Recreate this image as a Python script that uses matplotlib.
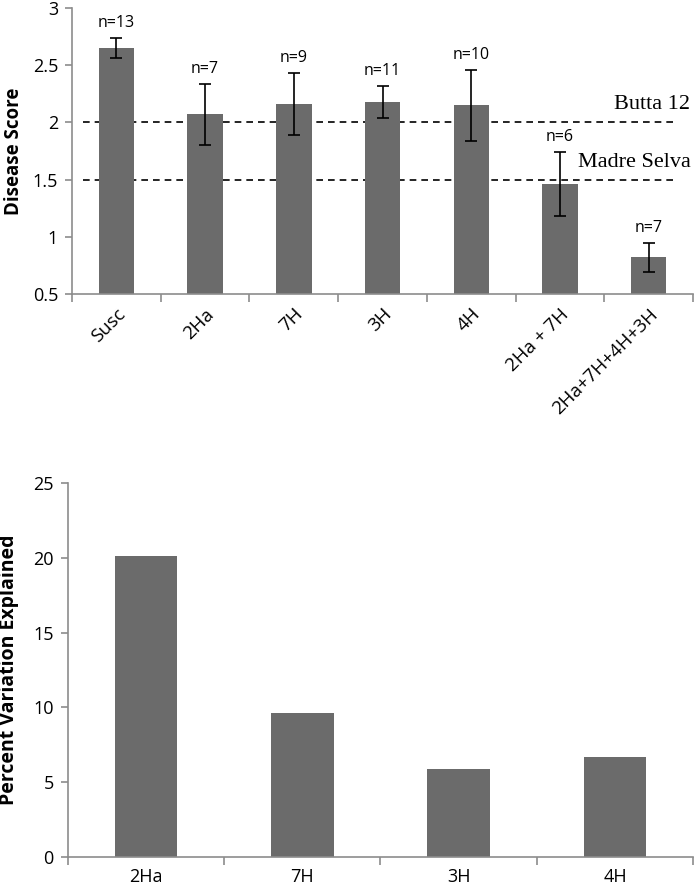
import numpy as np
import matplotlib.pyplot as plt

# top panel: disease score per line
lines = ['Susc', '2Ha', '7H', '3H', '4H', '2Ha + 7H', '2Ha+7H+4H+3H']
score = [2.65, 2.07, 2.16, 2.18, 2.15, 1.46, 0.82]
score_err = [0.09, 0.27, 0.27, 0.14, 0.31, 0.28, 0.13]
n_obs = [13, 7, 9, 11, 10, 6, 7]
checks = {'Butta 12': 2.0, 'Madre Selva': 1.5}

# bottom panel: percent variation explained per QTL
qtl = ['2Ha', '7H', '3H', '4H']
pve = [20.1, 9.6, 5.9, 6.7]

bar_color = '#6b6b6b'
axis_color = '#8c8c8c'
tick_font = 'Open Sans'

fig = plt.figure(figsize=(6.98, 8.91), dpi=100)
ax1 = fig.add_axes([0.103, 0.670, 0.890, 0.321])
ax2 = fig.add_axes([0.097, 0.038, 0.896, 0.420])


def style_axis(ax, n):
    for side in ['top', 'right']:
        ax.spines[side].set_visible(False)
    for side in ['left', 'bottom']:
        ax.spines[side].set_color(axis_color)
        ax.spines[side].set_linewidth(1.2)
    ax.set_xlim(-0.5, n - 0.5)
    # excel style: ticks between categories
    ax.set_xticks(np.arange(n + 1) - 0.5)
    ax.set_xticklabels([])
    ax.set_xticks(np.arange(n), minor=True)
    ax.tick_params(axis='x', which='major', direction='out', length=6, color=axis_color, width=1.2)
    ax.tick_params(axis='x', which='minor', length=0, pad=8)
    ax.tick_params(axis='y', direction='out', length=5, color=axis_color, width=1.2,
                   labelsize=13, pad=5)
    for lab in ax.get_yticklabels():
        lab.set_fontfamily(tick_font)


x = np.arange(len(lines))
ax1.bar(x, score, width=0.4, color=bar_color, zorder=2)
ax1.errorbar(x, score, yerr=score_err, fmt='none', ecolor='black', elinewidth=1.2,
             capsize=4, capthick=1.2, zorder=3)
for xi, s, e, n in zip(x, score, score_err, n_obs):
    ax1.annotate(f'n={n}', (xi, s + e), xytext=(0, 5), textcoords='offset points',
                 ha='center', va='bottom', fontsize=11.5, family=tick_font)

for name, val in checks.items():
    ax1.plot([-0.38, 6.32], [val, val], ls=(0, (4, 3)), color='black', lw=1.2, zorder=1)
    ax1.text(6.47, val + 0.07, name, ha='right', va='bottom', fontsize=16,
             family='Liberation Serif')

ax1.set_ylim(0.5, 3)
ax1.set_yticks([0.5, 1, 1.5, 2, 2.5, 3])
ax1.set_yticklabels(['0.5', '1', '1.5', '2', '2.5', '3'])
style_axis(ax1, len(lines))
ax1.set_xticklabels(lines, minor=True, rotation=45, ha='right', rotation_mode='anchor',
                    fontsize=13.5, family=tick_font)
ax1.set_ylabel('Disease Score', fontsize=13.5, fontweight='bold', family=tick_font, labelpad=6)

x2 = np.arange(len(qtl))
ax2.bar(x2, pve, width=0.4, color=bar_color, zorder=2)
ax2.set_ylim(0, 25)
ax2.set_yticks([0, 5, 10, 15, 20, 25])
style_axis(ax2, len(qtl))
ax2.set_xticklabels(qtl, minor=True, fontsize=13, family=tick_font)
ax2.set_ylabel('Percent Variation Explained', fontsize=14, fontweight='bold', family=tick_font,
               labelpad=10)

plt.savefig('out.png', dpi=100)
